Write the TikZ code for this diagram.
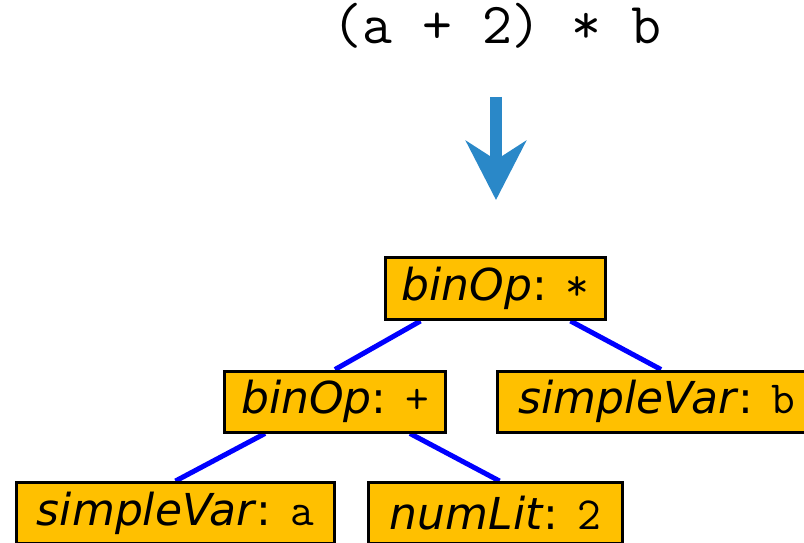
\documentclass[tikz,border=0pt]{standalone}
\usepackage{fontspec}
\setmainfont{DejaVu Sans}
\usetikzlibrary{arrows.meta,backgrounds}
\definecolor{nodefill}{HTML}{FFC000}
\definecolor{edgeblue}{HTML}{0000FF}
\definecolor{arrowblue}{HTML}{2A88C8}
\newcommand{\astlabel}[2]{\textit{#1}: {\ttfamily\fontsize{46}{52}\selectfont #2}}

\begin{document}
\begin{tikzpicture}[x=1pt,y=-1pt,
 astnode/.style={draw=black,line width=3pt,fill=nodefill,minimum height=61pt,inner sep=0pt,font=\fontsize{44}{52}\selectfont},
 branch/.style={edgeblue,line width=5pt}]
\useasboundingbox (0,0) rectangle (804,543);
\node[anchor=base,font=\fontsize{58}{64}\selectfont\ttfamily] (expr) at (497,44) {(a + 2) * b};
\coordinate (shafttop) at (496,97);
\coordinate (arrowtip) at (496,200);
\draw[arrowblue,line width=12pt,-{Stealth[length=59pt,width=60pt,inset=19pt]}] (shafttop) -- (arrowtip);
\node[astnode,minimum width=220pt,minimum height=62pt] (mul) at (495.5,288.5) {\astlabel{binOp}{*}};
\node[astnode,minimum width=221pt] (plus) at (335,401.5) {\astlabel{binOp}{+}};
\node[astnode,minimum width=319pt] (varb) at (657,401.5) {\astlabel{simpleVar}{b}};
\node[astnode,minimum width=318pt] (vara) at (175.5,513) {\astlabel{simpleVar}{a}};
\node[astnode,minimum width=254pt] (lit) at (495.5,513) {\astlabel{numLit}{2}};
\begin{scope}[on background layer]
 \draw[branch] ([xshift=-75pt]mul.south) -- (plus.north);
 \draw[branch] ([xshift=75pt]mul.south) -- ([xshift=4pt]varb.north);
 \draw[branch] ([xshift=-70pt]plus.south) -- (vara.north);
 \draw[branch] ([xshift=75pt]plus.south) -- ([xshift=4pt]lit.north);
\end{scope}
\end{tikzpicture}
\end{document}
